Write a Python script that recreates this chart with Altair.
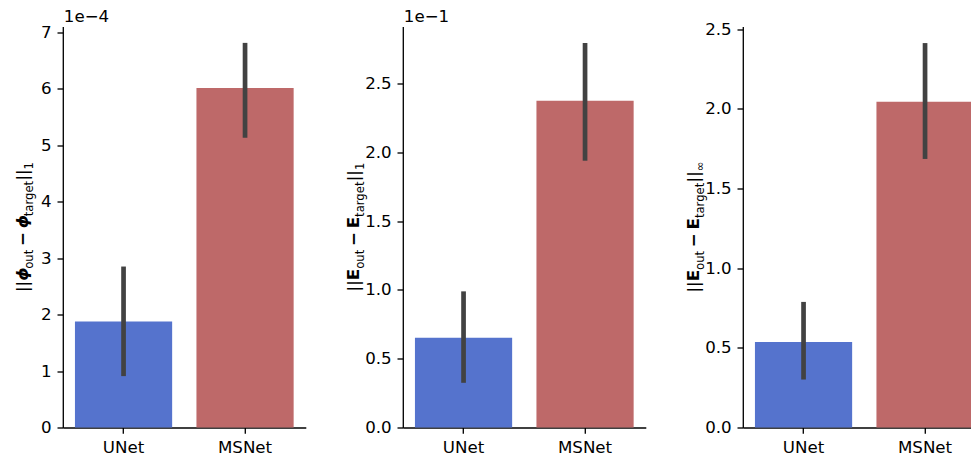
import altair as alt
import pandas as pd

# ---------------- data (values in axis display units) ----------------
models = ["UNet", "MSNet"]
bar_colors = ["#5573CD", "#BE6969"]

phi_mean = [1.876, 6.01]      # x 1e-4
phi_lo = [0.91, 5.13]
phi_hi = [2.85, 6.81]

e1_mean = [0.652, 2.376]      # x 1e-1
e1_lo = [0.325, 1.94]
e1_hi = [0.99, 2.796]

einf_mean = [0.537, 2.044]
einf_lo = [0.301, 1.685]
einf_hi = [0.788, 2.412]

y_max = [7.10, 2.916, 2.516]
y_ticks = [[0, 1, 2, 3, 4, 5, 6, 7],
           [0.0, 0.5, 1.0, 1.5, 2.0, 2.5],
           [0.0, 0.5, 1.0, 1.5, 2.0, 2.5]]
y_formats = ["d", ".1f", ".1f"]
offset_texts = ["1e\u22124", "1e\u22121", ""]

# ---------------- style / layout ----------------
FONT = "DejaVu Sans"
FS = 16.67
SUB = 11.67
W_PANEL = 243
H_PANEL = 401
ERR_COLOR = "#424242"

CHAR_W = {"|": 0.337, "o": 0.612, "u": 0.634, "t": 0.392, "a": 0.613,
          "r": 0.411, "g": 0.635, "e": 0.615, "1": 0.636, "\u221e": 0.838,
          "\u03d5": 0.72, "E": 0.683, "\u2212": 0.838, " ": 0.222}


def text_w(s, size):
    return sum(CHAR_W.get(c, 0.6) for c in s) * size


def title_frame(sym, sym_grp, last):
    seq = [("||", "reg", FS), (sym, sym_grp, FS), ("out", "sub", SUB),
           (" ", "gap", FS), ("\u2212", "bold", FS), (" ", "gap", FS),
           (sym, sym_grp, FS), ("target", "sub", SUB), ("||", "reg", FS),
           (last, "sub", SUB)]
    total = sum(text_w(t, s) for t, _, s in seq)
    cur = H_PANEL / 2 + total / 2
    rows = []
    for t, g, s in seq:
        if g != "gap":
            rows.append({"text": t, "grp": g, "py": cur})
        cur -= text_w(t, s)
    return pd.DataFrame(rows)


def panel(mean, lo, hi, ymax, ticks, fmt, offset, sym, sym_grp, last,
          x_main, width, xscale):
    df = pd.DataFrame({"model": models, "mean": mean, "lo": lo, "hi": hi})
    yscale = alt.Scale(domain=[0, ymax], nice=False, zero=True)
    x = alt.X("model:N", sort=models, scale=xscale,
              axis=alt.Axis(title=None, labelAngle=0))
    bars = alt.Chart(df).mark_bar().encode(
        x=x,
        y=alt.Y("mean:Q", scale=yscale,
                axis=alt.Axis(title=None, values=ticks, format=fmt)),
        color=alt.Color("model:N", scale=alt.Scale(domain=models, range=bar_colors),
                        legend=None),
    )
    rules = alt.Chart(df).mark_rule(color=ERR_COLOR, strokeWidth=4.7,
                                    strokeCap="butt").encode(
        x=x,
        y=alt.Y("lo:Q", scale=yscale),
        y2="hi:Q",
    )
    base = alt.layer(bars, rules)

    tdf = title_frame(sym, sym_grp, last)
    styles = {
        "reg": dict(fontSize=FS, fontWeight="normal", fontStyle="normal", dx=0),
        "bi": dict(fontSize=FS, fontWeight="bold", fontStyle="italic", dx=0),
        "bold": dict(fontSize=FS, fontWeight="bold", fontStyle="normal", dx=0),
        "sub": dict(fontSize=SUB, fontWeight="normal", fontStyle="normal", dx=5.0),
    }
    layers = [base]
    for g, st in styles.items():
        if g not in set(tdf["grp"]):
            continue
        layers.append(
            alt.Chart(tdf).mark_text(
                angle=270, align="left", baseline="alphabetic", font=FONT,
                fontSize=st["fontSize"], fontWeight=st["fontWeight"],
                fontStyle=st["fontStyle"], color="black",
            ).encode(
                x=alt.value(x_main + st["dx"]),
                y=alt.Y("py:Q", scale=None, axis=None),
                text="text:N",
            ).transform_filter(alt.datum.grp == g)
        )
    if offset:
        odf = pd.DataFrame({"t": [offset]})
        layers.append(
            alt.Chart(odf).mark_text(align="left", baseline="alphabetic",
                                     font=FONT, fontSize=FS, color="black").encode(
                x=alt.value(1), y=alt.value(-5), text="t:N")
        )
    return alt.layer(*layers).resolve_scale(y="independent").properties(
        width=width, height=H_PANEL)


std_x = alt.Scale(paddingInner=0.2, paddingOuter=0.1)

p1 = panel(phi_mean, phi_lo, phi_hi, y_max[0], y_ticks[0], y_formats[0],
           offset_texts[0], "\u03d5", "bi", "1", -35, W_PANEL, std_x)
p2 = panel(e1_mean, e1_lo, e1_hi, y_max[1], y_ticks[1], y_formats[1],
           offset_texts[1], "E", "bold", "1", -44, W_PANEL, std_x)
p3 = panel(einf_mean, einf_lo, einf_hi, y_max[2], y_ticks[2], y_formats[2],
           offset_texts[2], "E", "bold", "\u221e", -44, W_PANEL, std_x)

# the right end of the third panel runs past the page edge, as in the reference
chart = alt.hconcat(p1, p2, p3, spacing=97, bounds="flush").properties(
    padding={"left": 5.8, "top": 0.5, "right": -15, "bottom": 0}
).configure_view(stroke=None).configure_axis(
    grid=False, domainColor="black", tickColor="black", labelColor="black",
    labelFont=FONT, labelFontSize=FS, domainWidth=1.33, tickWidth=1.33,
    tickSize=5.8, labelPadding=5.8,
)

chart.save("out.html", embed_options={"renderer": "svg", "actions": False})
